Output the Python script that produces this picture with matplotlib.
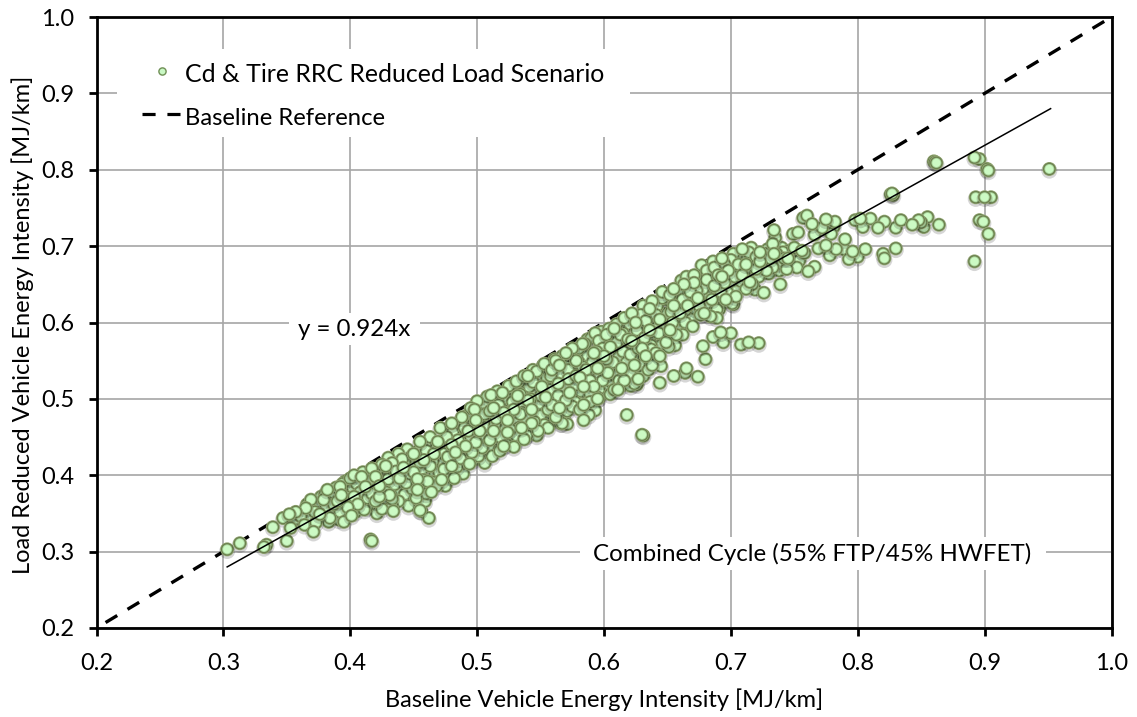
import matplotlib
matplotlib.use("Agg")
import matplotlib.pyplot as plt
from matplotlib.patches import Rectangle

plt.rcParams['font.family'] = ['Lato', 'DejaVu Sans']

low_end = [(.303,.303),(.313,.311),(.334,.309),(.332,.306),(.339,.332),(.347,.344),(.350,.314),(.353,.331),(.358,.343),
 (.365,.357),(.369,.368),(.371,.326),(.364,.335),(.369,.345),(.374,.361),(.380,.375),(.383,.339),(.392,.352),(.395,.339),
 (.416,.316),(.417,.314),(.433,.360),(.455,.354),(.456,.353),(.462,.344),(.476,.404),(.392,.385),(.403,.400),(.377,.372),(.372,.352),(.386,.378)]
band_040 = [(.381,.360),(.385,.370),(.388,.352),(.390,.366),(.393,.374),(.396,.392),(.398,.358),(.399,.381),(.401,.347),(.403,.372),
 (.405,.389),(.406,.362),(.408,.378),(.409,.398),(.411,.355),(.412,.385),(.414,.370),(.415,.402),(.416,.392),(.418,.362),
 (.419,.380),(.421,.350),(.422,.408),(.423,.372),(.424,.394),(.426,.383),(.427,.361),(.428,.412),(.429,.401),(.431,.374),
 (.432,.389),(.433,.416),(.434,.353),(.436,.405),(.437,.382),(.438,.366),(.439,.396),(.441,.421),(.442,.410),(.443,.375),
 (.444,.390),(.446,.360),(.447,.402),(.448,.424),(.449,.382),(.451,.414),(.452,.370),(.453,.395),(.454,.432),(.456,.406),
 (.457,.384),(.458,.420),(.459,.366),(.461,.392),(.462,.438),(.463,.412),(.464,.378),(.466,.428),(.467,.402),(.468,.386),
 (.469,.444),(.470,.418),(.472,.394),(.473,.434),(.474,.408),(.476,.450),(.477,.424),(.478,.416),(.479,.398),(.480,.440)]
band_050 = [(.481,.456),(.483,.430),(.484,.411),(.485,.446),(.486,.470),(.487,.422),(.489,.402),(.490,.462),(.491,.438),(.492,.478),
 (.494,.415),(.495,.450),(.496,.430),(.497,.468),(.498,.486),(.499,.443),(.501,.425),(.502,.458),(.503,.476),(.504,.436),
 (.505,.494),(.506,.416),(.507,.450),(.508,.466),(.509,.438),(.510,.484),(.511,.505),(.512,.425),(.513,.458),(.515,.474),
 (.516,.444),(.517,.492),(.518,.432),(.519,.464),(.520,.508),(.521,.482),(.522,.450),(.523,.440),(.524,.472),(.525,.498),
 (.526,.460),(.527,.514),(.528,.444),(.529,.486),(.530,.470),(.531,.452),(.532,.504),(.533,.522),(.534,.480),(.535,.462),
 (.536,.492),(.537,.447),(.538,.514),(.539,.474),(.540,.530),(.541,.456),(.542,.500),(.543,.486),(.544,.522),(.545,.470),
 (.546,.508),(.547,.536),(.548,.458),(.549,.494),(.550,.478),(.551,.516),(.552,.544),(.553,.466),(.554,.502),(.555,.528),
 (.556,.486),(.557,.470),(.558,.512),(.559,.538),(.560,.496),(.561,.480),(.562,.550),(.563,.522),(.564,.504),(.565,.488)]
band_060 = [(.566,.532),(.567,.556),(.568,.474),(.569,.514),(.570,.498),(.571,.542),(.572,.526),(.573,.508),(.574,.560),(.575,.490),
 (.576,.534),(.577,.518),(.578,.550),(.579,.500),(.580,.566),(.581,.528),(.582,.510),(.583,.542),(.584,.492),(.585,.572),
 (.586,.522),(.587,.556),(.588,.536),(.589,.506),(.590,.580),(.591,.548),(.592,.516),(.593,.530),(.594,.562),(.595,.500),
 (.596,.576),(.598,.540),(.599,.524),(.600,.556),(.601,.510),(.602,.584),(.603,.534),(.605,.568),(.606,.520),(.607,.548),
 (.608,.592),(.609,.530),(.610,.574),(.611,.512),(.612,.556),(.614,.540),(.615,.586),(.616,.524),(.617,.566),(.618,.548),
 (.620,.598),(.621,.532),(.622,.576),(.623,.556),(.624,.520),(.626,.590),(.627,.566),(.628,.544),(.629,.610),(.631,.530),
 (.632,.580),(.633,.556),(.634,.600),(.636,.618),(.637,.570),(.638,.544),(.640,.592),(.641,.560),(.642,.622),(.644,.604),
 (.645,.578),(.646,.632),(.648,.590),(.650,.612),(.651,.568),(.652,.636),(.654,.600),(.655,.622),(.657,.584),(.658,.640)]
band_070 = [(.660,.612),(.661,.655),(.662,.630),(.664,.600),(.665,.660),(.666,.622),(.668,.640),(.670,.595),(.671,.652),(.672,.618),
 (.674,.632),(.676,.610),(.677,.675),(.678,.644),(.680,.624),(.681,.656),(.683,.636),(.684,.608),(.686,.680),(.687,.648),
 (.688,.626),(.689,.617),(.689,.606),(.690,.662),(.692,.640),(.693,.684),(.695,.652),(.696,.630),(.698,.668),(.699,.646),
 (.701,.625),(.702,.690),(.703,.660),(.705,.642),(.706,.676),(.708,.654),(.709,.696),(.711,.668),(.712,.644),(.713,.684),
 (.715,.653),(.716,.698),(.718,.672),(.719,.643),(.720,.686),(.722,.660),(.723,.692),(.725,.678),(.726,.639),(.728,.668),
 (.729,.696),(.731,.684),(.733,.672),(.733,.703),(.734,.721),(.735,.711),(.736,.690),(.738,.678),(.739,.650),(.740,.698),
 (.742,.684),(.744,.670),(.746,.694),(.748,.680),(.749,.716),(.750,.698),(.752,.672),(.753,.718),(.754,.681),(.756,.694)]
fill_low = [(.352,.349),(.357,.352),(.361,.346),(.366,.362),(.373,.338),(.376,.349),(.379,.368),(.382,.381),(.384,.344),(.387,.362),
 (.389,.384),(.391,.342),(.394,.389),(.394,.361),(.397,.372),(.400,.396),(.400,.365),(.402,.383),(.404,.352),(.404,.398),
 (.407,.371),(.410,.388),(.410,.404),(.413,.358),(.413,.396),(.417,.376),(.417,.409),(.420,.366),(.420,.398),(.423,.386),
 (.425,.414),(.425,.356),(.428,.378),(.430,.395),(.430,.423),(.433,.369),(.435,.412),(.435,.388),(.438,.428),(.440,.380),
 (.440,.404),(.443,.418),(.445,.434),(.445,.372),(.448,.393),(.450,.428),(.450,.404),(.453,.381),(.455,.444),(.455,.417),
 (.458,.394),(.460,.432),(.460,.376),(.463,.450),(.465,.418),(.465,.391),(.468,.436),(.470,.404),(.471,.462),(.474,.428),
 (.475,.386),(.478,.444),(.480,.412),(.480,.468),(.482,.396),(.484,.434)]
fill_mid = [(.486,.448),(.488,.476),(.489,.416),(.492,.432),(.493,.458),(.495,.488),(.497,.420),(.499,.472),(.500,.497),(.500,.436),
 (.503,.452),(.505,.422),(.506,.480),(.508,.503),(.510,.446),(.511,.432),(.513,.488),(.514,.466),(.516,.510),(.518,.450),
 (.519,.478),(.521,.438),(.522,.498),(.524,.456),(.525,.517),(.527,.476),(.528,.496),(.530,.442),(.531,.523),(.533,.462),
 (.534,.506),(.536,.482),(.537,.530),(.539,.452),(.540,.498),(.541,.516),(.543,.468),(.544,.538),(.546,.488),(.547,.452),
 (.549,.522),(.550,.504),(.552,.474),(.553,.546),(.555,.512),(.556,.462),(.558,.530),(.559,.492),(.561,.552),(.562,.476),
 (.564,.520),(.565,.544),(.566,.468),(.568,.502),(.570,.560),(.571,.484),(.572,.538),(.574,.516),(.575,.566),(.577,.496),
 (.578,.530),(.580,.548),(.581,.486),(.583,.572),(.584,.516),(.586,.538),(.587,.578),(.589,.524),(.590,.498),(.592,.560),
 (.593,.586),(.595,.540),(.596,.512),(.598,.588),(.599,.566),(.601,.532),(.602,.552),(.604,.592),(.605,.506),(.607,.574)]
fill_high = [(.609,.546),(.610,.598),(.612,.524),(.613,.584),(.615,.562),(.616,.606),(.618,.536),(.619,.578),(.621,.558),(.622,.612),
 (.624,.544),(.625,.600),(.627,.526),(.628,.584),(.630,.566),(.631,.622),(.633,.602),(.635,.538),(.636,.590),(.638,.628),
 (.639,.574),(.641,.610),(.643,.586),(.644,.556),(.646,.640),(.647,.604),(.649,.574),(.650,.630),(.652,.590),(.653,.614),
 (.655,.644),(.656,.570),(.658,.606),(.659,.626),(.661,.596),(.663,.650),(.664,.616),(.667,.634),(.669,.608),(.671,.662),
 (.673,.642),(.675,.622),(.677,.654),(.679,.612),(.681,.668),(.683,.650),(.685,.630),(.687,.672),(.689,.642),(.691,.618),
 (.693,.660),(.695,.676),(.697,.640),(.700,.682),(.702,.652),(.704,.634),(.707,.688),(.709,.662),(.712,.676),(.714,.692),
 (.717,.650),(.720,.670),(.723,.680),(.727,.690),(.730,.664),(.734,.690),(.738,.668),(.741,.692),(.745,.684),(.751,.688)]
upper_tail = [(.757,.737),(.760,.740),(.758,.691),(.761,.667),(.764,.729),(.766,.715),(.766,.673),(.769,.697),(.772,.724),(.775,.735),
 (.775,.701),(.778,.688),(.781,.725),(.782,.732),(.783,.696),(.776,.722),(.779,.716),(.789,.696),(.790,.709),(.793,.683),
 (.796,.693),(.798,.734),(.800,.686),(.802,.736),(.804,.725),(.806,.696),(.810,.736),(.816,.724),(.820,.690),(.821,.684),
 (.821,.732),(.826,.768),(.827,.769),(.828,.767),(.830,.724),(.830,.697),(.834,.734),(.843,.728),(.848,.734),(.852,.725),
 (.855,.738),(.850,.731),(.864,.728),(.860,.811),(.861,.810),(.862,.809),(.892,.816),(.896,.814),(.903,.799),(.902,.801),
 (.951,.801),(.893,.764),(.900,.764),(.905,.764),(.896,.734),(.899,.732),(.903,.716),(.892,.680)]
side_points = [(.618,.479),(.630,.453),(.631,.452),(.644,.521),(.655,.530),(.665,.540),(.664,.534),(.674,.529),(.680,.552),(.678,.569),
 (.686,.581),(.692,.587),(.694,.574),(.700,.586),(.708,.571),(.714,.574),(.722,.573),(.702,.624),(.662,.584),(.650,.581),
 (.645,.570),(.642,.552),(.645,.543),(.637,.565),(.626,.519),(.621,.517),(.615,.518),(.608,.512),(.596,.501),(.589,.496),
 (.593,.485),(.588,.479),(.584,.472),(.571,.467),(.567,.468),(.568,.476),(.538,.451),(.544,.466),(.529,.437),(.514,.433),(.506,.434)]

# interleave the groups so the draw order is not a left-to-right sweep
groups = [low_end, band_040, fill_low, band_050, fill_mid, band_060, fill_high, band_070, side_points, upper_tail]
all_points = sorted(sum(groups, []), key=lambda p: (int(p[0]*1000) * 37) % 101)
scatter_x = [p[0] for p in all_points]
scatter_y = [p[1] for p in all_points]
reference_x = [0.2, 1.0]
reference_y = [0.2, 1.0]
trend_x = [0.303, 0.952]
trend_y = [0.28, 0.88]
ticks = [0.2, 0.3, 0.4, 0.5, 0.6, 0.7, 0.8, 0.9, 1.0]
tick_labels = ['0.2', '0.3', '0.4', '0.5', '0.6', '0.7', '0.8', '0.9', '1.0']

W, H = 1137, 717
fig = plt.figure(figsize=(W/100, H/100), dpi=100, facecolor='white')
ax = fig.add_axes([96.5/W, 1-628/H, 1015/W, 611/H])
ax.set_xlim(0.2, 1.0); ax.set_ylim(0.2, 1.0)
ax.set_xticks(ticks); ax.set_yticks(ticks)
ax.set_xticklabels(tick_labels); ax.set_yticklabels(tick_labels)
ax.grid(True, color='#a6a6a6', lw=1.2, zorder=1)
ax.set_axisbelow(True)
ax.tick_params(axis='x', length=5.5, width=2, labelsize=17, direction='out', pad=12.5)
ax.tick_params(axis='y', length=5.5, width=2, labelsize=17, direction='out', pad=10.5)
for s in ax.spines.values():
    s.set_linewidth(2); s.set_color('black'); s.set_zorder(10)
ax.set_xlabel('Baseline Vehicle Energy Intensity [MJ/km]', fontsize=17)
ax.set_ylabel('Load Reduced Vehicle Energy Intensity [MJ/km]', fontsize=17)
ax.xaxis.set_label_coords(0.5, -(700-628)/611, transform=ax.transAxes)
ax.xaxis.label.set_va('center')
ax.yaxis.set_label_coords((23-96.5)/1015, (628-325)/611, transform=ax.transAxes)
ax.yaxis.label.set_va('center')

def fx(p):
    return 0.2 + (p - 96.5)/1015*0.8
def fy(p):
    return 0.2 + (628 - p)/611*0.8

# white panels that interrupt the grid beneath the annotations
for (l, r, t, b) in [(117, 630, 49, 137), (289, 420, 313, 345), (580, 1046, 537, 570)]:
    ax.add_patch(Rectangle((fx(l), fy(b)), fx(r)-fx(l), fy(t)-fy(b), fc='white', ec='none', zorder=1.5))

ax.plot(reference_x, reference_y, color='black', lw=2.4, linestyle=(4.5, (4.08, 3.6)), dash_capstyle='butt', zorder=2)

# each point is a stack of discs (shadow, rim, ring, body, highlight), drawn point by point
layers = [(16, (0, 0, 0, 0.16), -0.0022), (14, (0.58, 0.66, 0.46, 1), 0), (12.6, (0.42, 0.50, 0.31, 1), 0),
          (10, (0.66, 0.83, 0.60, 1), 0), (8.2, (0.80, 0.98, 0.77, 1), 0)]
xs, ys, ss, cs = [], [], [], []
for x, y in zip(scatter_x, scatter_y):
    for d, c, off in layers:
        xs.append(x); ys.append(y + off); ss.append((d*0.72)**2); cs.append(c)
ax.scatter(xs, ys, s=ss, c=cs, linewidths=0, zorder=3)
ax.plot(trend_x, trend_y, color='black', lw=1.1, zorder=4)

# legend marks and annotations inside the white panels
ax.scatter([fx(161.5)], [fy(71)], s=27, facecolor='#c9f8c4', edgecolor='#6f8f55', linewidths=1.0, zorder=5)
ax.plot([fx(142), fx(181)], [fy(114)]*2, color='black', lw=2.3, linestyle=(0, (4.1, 3.7)), dash_capstyle='butt', zorder=5)
ax.text(fx(185), fy(82), 'Cd & Tire RRC Reduced Load Scenario', fontsize=17.9, va='baseline', ha='left', zorder=5)
ax.text(fx(185), fy(125), 'Baseline Reference', fontsize=17.2, va='baseline', ha='left', zorder=5)
ax.text(fx(298), fy(336), 'y = 0.924x', fontsize=17.4, va='baseline', ha='left', zorder=5)
ax.text(fx(593), fy(561), 'Combined Cycle (55% FTP/45% HWFET)', fontsize=17.4, va='baseline', ha='left', zorder=5)

fig.savefig('out.png', dpi=100)
